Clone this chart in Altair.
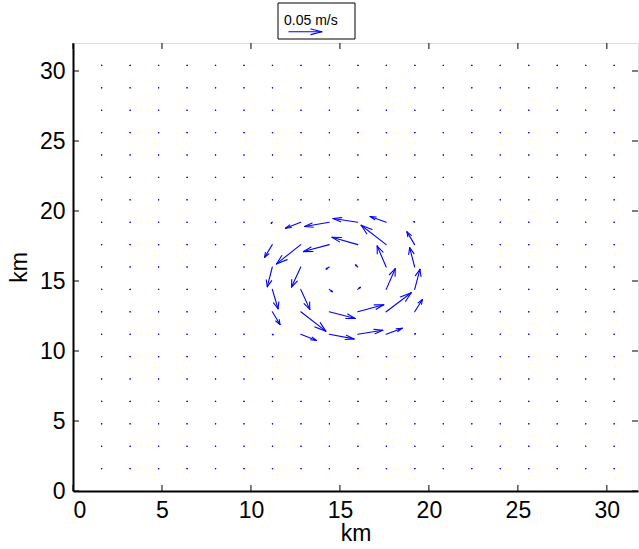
import altair as alt
import pandas as pd

# grid positions (km)
GRID_X = [1.6, 3.2, 4.8, 6.4, 8.0, 9.6, 11.2, 12.8, 14.4, 16.0, 17.6, 19.2,
          20.8, 22.4, 24.0, 25.6, 27.2, 28.8, 30.4]
GRID_Y = [1.6, 3.2, 4.8, 6.4, 8.0, 9.6, 11.2, 12.8, 14.4, 16.0, 17.6, 19.2,
          20.8, 22.4, 24.0, 25.6, 27.2, 28.8, 30.4]

# eddy region: columns (x) and rows (y) in km
EDDY_X = [11.2, 12.8, 14.4, 16.0, 17.6, 19.2]
EDDY_Y = [19.2, 17.6, 16.0, 14.4, 12.8, 11.2]

# velocity components (m/s), one row per EDDY_Y value
EDDY_U = [
    [-0.0015, -0.0232, -0.0375, -0.0375, -0.0243, -0.0010],
    [-0.0117, -0.0369, -0.0390, -0.0390, -0.0380, -0.0117],
    [-0.0076, -0.0141, -0.0046, -0.0030, -0.0137, -0.0076],
    [0.0087, 0.0137, 0.0046, 0.0038, 0.0137, 0.0080],
    [0.0117, 0.0380, 0.0395, 0.0395, 0.0380, 0.0117],
    [0.0010, 0.0238, 0.0375, 0.0380, 0.0243, 0.0010],
]
EDDY_V = [
    [-0.0019, -0.0116, -0.0083, 0.0071, 0.0110, 0.0010],
    [-0.0245, -0.0373, -0.0135, 0.0141, 0.0373, 0.0245],
    [-0.0380, -0.0386, -0.0039, 0.0039, 0.0405, 0.0373],
    [-0.0373, -0.0386, -0.0044, 0.0039, 0.0400, 0.0386],
    [-0.0245, -0.0373, -0.0129, 0.0135, 0.0367, 0.0237],
    [-0.0010, -0.0122, -0.0091, 0.0077, 0.0116, 0.0010],
]
# background field elsewhere: near zero
BG_U = 0.0004
BG_V = 0.0

# reference arrow
REF_SPEED = [0.05]
REF_LABEL = "0.05 m/s"
REF_POS = [12.13, 32.8]

X_TICKS = [0, 5, 10, 15, 20, 25, 30]
Y_TICKS = [0, 5, 10, 15, 20, 25, 30]

SCALE = 37.0  # km per (m/s)

rows = []
for yv in GRID_Y:
    for xv in GRID_X:
        u, v = BG_U, BG_V
        if xv in EDDY_X and yv in EDDY_Y:
            i = EDDY_Y.index(yv)
            j = EDDY_X.index(xv)
            u, v = EDDY_U[i][j], EDDY_V[i][j]
        rows.append({"x": xv, "y": yv, "u": u, "v": v})
field = pd.DataFrame(rows)
ref = pd.DataFrame([{"x": REF_POS[0], "y": REF_POS[1], "u": REF_SPEED[0], "v": 0.0}])

W, H = 565, 448
FONT = "Liberation Sans"
BLUE = "#0000ff"

xs = alt.Scale(domain=[0, 31.75], nice=False, zero=False)
ys = alt.Scale(domain=[0, 32], nice=False, zero=False)


def quiver(df):
    base = alt.Chart(df).transform_calculate(
        ux=f"datum.u*{SCALE}", vy=f"datum.v*{SCALE}"
    ).transform_calculate(
        tx="datum.x+datum.ux", ty="datum.y+datum.vy"
    ).transform_calculate(
        h1x="datum.tx-0.33*(datum.ux+0.33*datum.vy)",
        h1y="datum.ty-0.33*(datum.vy-0.33*datum.ux)",
        h2x="datum.tx-0.33*(datum.ux-0.33*datum.vy)",
        h2y="datum.ty-0.33*(datum.vy+0.33*datum.ux)",
    )
    mk = dict(color=BLUE, strokeWidth=1.1, strokeCap="round")
    shaft = base.mark_rule(**mk).encode(
        x=alt.X("x:Q", scale=xs, axis=alt.Axis(values=X_TICKS, title="km", ticks=False,
                                                domain=True, domainWidth=2, domainColor="black",
                                                grid=False, labelFont=FONT, labelFontSize=23,
                                                labelColor="black", labelPadding=8,
                                                titleFont=FONT, titleFontSize=23,
                                                titleFontWeight="normal", titleColor="black",
                                                titlePadding=0)),
        y=alt.Y("y:Q", scale=ys, axis=alt.Axis(values=Y_TICKS, title="km", ticks=False,
                                                domain=True, domainWidth=2, domainColor="black",
                                                grid=False, labelFont=FONT, labelFontSize=23,
                                                labelColor="black", labelPadding=8,
                                                titleFont=FONT, titleFontSize=23,
                                                titleFontWeight="normal", titleColor="black",
                                                titlePadding=8)),
        x2="tx:Q", y2="ty:Q",
    )
    head1 = base.mark_rule(**mk).encode(x=alt.X("h1x:Q", scale=xs), y=alt.Y("h1y:Q", scale=ys),
                                        x2="tx:Q", y2="ty:Q")
    head2 = base.mark_rule(**mk).encode(x=alt.X("h2x:Q", scale=xs), y=alt.Y("h2y:Q", scale=ys),
                                        x2="tx:Q", y2="ty:Q")
    return [shaft, head1, head2]


# inward ticks
xt = pd.DataFrame({"t": X_TICKS})
yt = pd.DataFrame({"t": Y_TICKS})
tick_style = dict(color="black", strokeWidth=1)
xt_bot = alt.Chart(xt).mark_rule(**tick_style).encode(
    x=alt.X("t:Q", scale=xs), y=alt.value(H), y2=alt.value(H - 6))
xt_top = alt.Chart(xt).mark_rule(**tick_style).encode(
    x=alt.X("t:Q", scale=xs), y=alt.value(0), y2=alt.value(6))
yt_left = alt.Chart(yt).mark_rule(**tick_style).encode(
    y=alt.Y("t:Q", scale=ys), x=alt.value(0), x2=alt.value(6))
yt_right = alt.Chart(yt).mark_rule(**tick_style).encode(
    y=alt.Y("t:Q", scale=ys), x=alt.value(W), x2=alt.value(W - 6))

# reference-arrow box and label
one = alt.Data(values=[{"label": REF_LABEL}])
box = alt.Chart(one).mark_rect(fill="white", stroke="black", strokeWidth=1).encode(
    x=alt.value(205), x2=alt.value(282), y=alt.value(-40), y2=alt.value(-4))
label = alt.Chart(one).mark_text(font="Liberation Sans", fontSize=14, align="left",
                                 baseline="alphabetic", color="black").encode(
    x=alt.value(211), y=alt.value(-18), text="label:N")

layers = quiver(field) + [xt_bot, xt_top, yt_left, yt_right, box, label] + quiver(ref)

chart = alt.layer(*layers).properties(
    width=W, height=H,
    autosize=alt.AutoSizeParams(type="none"),
    padding={"left": 73, "top": 43, "right": 1, "bottom": 58},
).configure_view(stroke="black", strokeWidth=1.2).configure(background="white")

chart.save("out.html", embed_options={"renderer": "svg", "actions": False})
